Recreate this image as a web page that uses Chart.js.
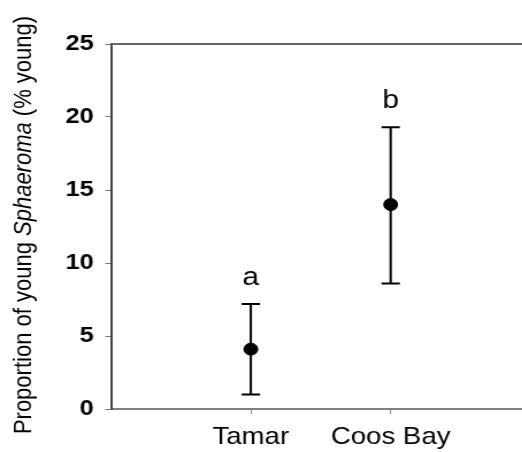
<!DOCTYPE html>
<html>
<head>
<meta charset="utf-8">
<script src="https://cdn.jsdelivr.net/npm/chart.js@4.4.1/dist/chart.umd.min.js"></script>
<style>
    html, body { margin: 0; padding: 0; background: #fff; overflow: hidden; }
    /* drawn a little narrow, then widened to the page width */
    #wrap { width: 454px; height: 452px; transform: scaleX(1.15); transform-origin: 0 0; }
</style>
</head>
<body>
<div id="wrap"><canvas id="young-chart"></canvas></div>
<script>
const sites = ['Tamar', 'Coos Bay'];
const sitePos = [1, 2];
const meanYoung = [4.1, 14.0];
const lowerYoung = [1.0, 8.6];
const upperYoung = [7.2, 19.3];
const groupLetters = ['a', 'b'];
const yTicks = [0, 5, 10, 15, 20, 25];

const FONT = '"Liberation Sans", Arial, sans-serif';

// error bars plus the significance letters above them
const errorBars = {
    id: 'errorBars',
    beforeDatasetsDraw(chart) {
        const ctx = chart.ctx;
        const x = chart.scales.x;
        const y = chart.scales.y;
        ctx.save();
        ctx.strokeStyle = '#000';
        ctx.lineWidth = 2;
        sitePos.forEach((p, i) => {
            const px = x.getPixelForValue(p);
            const lo = y.getPixelForValue(lowerYoung[i]);
            const hi = y.getPixelForValue(upperYoung[i]);
            ctx.beginPath();
            ctx.moveTo(px, lo);
            ctx.lineTo(px, hi);
            ctx.moveTo(px - 8, lo);
            ctx.lineTo(px + 8, lo);
            ctx.moveTo(px - 8, hi);
            ctx.lineTo(px + 8, hi);
            ctx.stroke();

            ctx.fillStyle = '#000';
            ctx.font = '26px ' + FONT;
            ctx.textAlign = 'center';
            ctx.textBaseline = 'middle';
            ctx.fillText(groupLetters[i], px, hi - 26);
        });
        ctx.restore();
    }
};

// top frame line and the y title (genus name in italics)
const frame = {
    id: 'frame',
    afterDraw(chart) {
        const ctx = chart.ctx;
        const area = chart.chartArea;
        ctx.save();
        ctx.strokeStyle = '#666';
        ctx.lineWidth = 2;
        ctx.beginPath();
        ctx.moveTo(area.left, area.top);
        ctx.lineTo(chart.width, area.top);
        ctx.stroke();

        const parts = [
            ['Proportion of young ', '22px ' + FONT],
            ['Sphaeroma', 'italic 22px ' + FONT],
            [' (% young)', '22px ' + FONT],
        ];
        let total = 0;
        parts.forEach(p => { ctx.font = p[1]; total += ctx.measureText(p[0]).width; });
        ctx.translate(21, 225);
        ctx.rotate(-Math.PI / 2);
        ctx.fillStyle = '#000';
        ctx.textBaseline = 'middle';
        ctx.textAlign = 'left';
        let cx = -total / 2;
        parts.forEach(p => {
            ctx.font = p[1];
            ctx.fillText(p[0], cx, 0);
            cx += ctx.measureText(p[0]).width;
        });
        ctx.restore();
    }
};

new Chart(document.getElementById('young-chart'), {
    type: 'scatter',
    data: {
        datasets: [{
            data: sitePos.map((p, i) => ({ x: p, y: meanYoung[i] })),
            backgroundColor: '#000',
            borderColor: '#000',
            pointRadius: 6,
            pointHoverRadius: 6,
        }]
    },
    options: {
        responsive: true,
        maintainAspectRatio: false,
        animation: false,
        layout: {
            autoPadding: false,
            padding: { top: 44, right: 0, left: 0, bottom: 0 },
        },
        plugins: {
            legend: { display: false },
            tooltip: { enabled: false },
        },
        scales: {
            x: {
                type: 'linear',
                min: 0,
                max: 2.94,
                afterBuildTicks(scale) {
                    scale.ticks = sitePos.map(v => ({ value: v }));
                },
                afterFit(scale) {
                    scale.height = 43;
                    scale.paddingLeft = 0;
                    scale.paddingRight = 0;
                },
                grid: { drawOnChartArea: false, drawTicks: true, tickLength: 5, tickColor: '#888' },
                border: { display: true, color: '#808080', width: 2 },
                ticks: {
                    color: '#000',
                    font: { family: FONT, size: 24 },
                    padding: 9,
                    maxRotation: 0,
                    callback: v => sites[sitePos.indexOf(v)] || '',
                },
            },
            y: {
                min: 0,
                max: 25,
                afterBuildTicks(scale) {
                    scale.ticks = yTicks.map(v => ({ value: v }));
                },
                afterFit(scale) { scale.width = 96.5; },
                grid: { drawOnChartArea: false, drawTicks: true, tickLength: 5, tickColor: '#777' },
                border: { display: true, color: '#444', width: 2 },
                ticks: {
                    color: '#000',
                    font: { family: FONT, size: 22, weight: 'bold' },
                    padding: 10,
                },
            },
        },
    },
    plugins: [errorBars, frame],
});
</script>
</body>
</html>
